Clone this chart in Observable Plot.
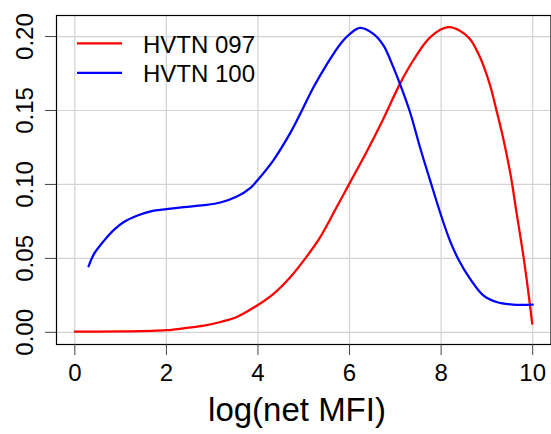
<!DOCTYPE html>
<html>
<head>
<meta charset="utf-8">
<script src="https://cdn.jsdelivr.net/npm/d3@7"></script>
<script src="https://cdn.jsdelivr.net/npm/@observablehq/plot@0.6"></script>
<style>
  html, body { margin: 0; padding: 0; background: #fff; }
  body { font-family: "Liberation Sans", Arial, Helvetica, sans-serif; }
  #wrap { position: relative; width: 551px; height: 434px; overflow: hidden; }
  #overlay { position: absolute; left: 0; top: 0; pointer-events: none; }
</style>
</head>
<body>
<div id="wrap"></div>
<script>
// ---- data ----
const seriesNames = ["HVTN 097", "HVTN 100"];
const seriesColors = ["#ff0000", "#0000ff"];
const xTicks = [0, 2, 4, 6, 8, 10];
const yTicks = [0, 0.05, 0.10, 0.15, 0.20];
const yTickLabels = ["0.00", "0.05", "0.10", "0.15", "0.20"];
const xLabel = "log(net MFI)";

const hvtn097X = [0, 1.0, 2.0, 2.45, 2.82, 3.18, 3.54, 4.0, 4.34, 4.71, 5.03, 5.36, 5.72, 6.0, 6.38, 6.74, 7.1, 7.39, 7.76, 8.15, 8.41, 8.63, 8.85, 9.06, 9.21, 9.35, 9.52, 9.64, 9.79, 9.9, 9.99];
const hvtn097Y = [0.0005, 0.0006, 0.0014, 0.003, 0.0045, 0.007, 0.0104, 0.0185, 0.026, 0.0374, 0.0498, 0.0644, 0.0847, 0.1007, 0.1225, 0.1445, 0.168, 0.1838, 0.1995, 0.2063, 0.204, 0.1984, 0.186, 0.168, 0.150, 0.132, 0.106, 0.0824, 0.053, 0.0284, 0.0059];

const hvtn100X = [0.30, 0.42, 0.64, 0.86, 1.07, 1.37, 1.66, 2.0, 2.38, 2.82, 3.18, 3.54, 3.83, 3.98, 4.34, 4.71, 4.96, 5.21, 5.51, 5.8, 6.01, 6.23, 6.52, 6.74, 6.96, 7.1, 7.32, 7.54, 7.76, 8.01, 8.19, 8.37, 8.63, 8.92, 9.21, 9.57, 10.0];
const hvtn100Y = [0.0446, 0.053, 0.062, 0.0694, 0.0746, 0.079, 0.0818, 0.0833, 0.0847, 0.086, 0.0878, 0.0918, 0.0975, 0.1025, 0.1165, 0.135, 0.150, 0.1655, 0.1815, 0.195, 0.2018, 0.2058, 0.2018, 0.194, 0.179, 0.168, 0.149, 0.125, 0.1027, 0.078, 0.0622, 0.0498, 0.0363, 0.025, 0.0205, 0.0187, 0.0187];

// ---- build tables ----
const rows097 = hvtn097X.map((x, i) => ({x, y: hvtn097Y[i], s: seriesNames[0]}));
const rows100 = hvtn100X.map((x, i) => ({x, y: hvtn100Y[i], s: seriesNames[1]}));

const FONT = '"Liberation Sans", Arial, Helvetica, sans-serif';

const chart = Plot.plot({
  width: 551,
  height: 434,
  marginLeft: 56,
  marginRight: 0.5,
  marginTop: 15,
  marginBottom: 90,
  style: { fontFamily: FONT, fontSize: "24px", background: "#fff", color: "#000" },
  x: { domain: [-0.4, 10.4], label: null },
  y: { domain: [-0.00824, 0.21424], label: null },
  marks: [
    Plot.gridX(xTicks, { stroke: "#d3d3d3", strokeOpacity: 1, strokeWidth: 1.2 }),
    Plot.gridY(yTicks, { stroke: "#d3d3d3", strokeOpacity: 1, strokeWidth: 1.2 }),
    Plot.line(rows097, { x: "x", y: "y", stroke: seriesColors[0], strokeWidth: 2.25, curve: "catmull-rom" }),
    Plot.line(rows100, { x: "x", y: "y", stroke: seriesColors[1], strokeWidth: 2.25, curve: "catmull-rom" }),
    Plot.frame({ stroke: "#000", strokeWidth: 1.2 }),
    Plot.axisX(xTicks, { label: null, tickSize: 11, tickPadding: 8, fontSize: 24, stroke: "#444", fill: "#000", tickFormat: d => String(d) }),
    Plot.axisY(yTicks, { label: null, tickSize: 11, tickPadding: 13, tickRotate: -90, fontSize: 24, stroke: "#444", fill: "#000",
      tickFormat: d => yTickLabels[yTicks.indexOf(d)] })
  ]
});

const wrap = document.getElementById("wrap");
wrap.appendChild(chart);

// ---- legend and axis title overlay ----
const ns = "http://www.w3.org/2000/svg";
const ov = document.createElementNS(ns, "svg");
ov.setAttribute("id", "overlay");
ov.setAttribute("width", 551);
ov.setAttribute("height", 434);
ov.style.fontFamily = FONT;
wrap.appendChild(ov);

const legendLineY = [43.3, 72.8];
seriesNames.forEach((name, i) => {
  const ln = document.createElementNS(ns, "line");
  ln.setAttribute("x1", 77); ln.setAttribute("x2", 122);
  ln.setAttribute("y1", legendLineY[i]); ln.setAttribute("y2", legendLineY[i]);
  ln.setAttribute("stroke", seriesColors[i]);
  ln.setAttribute("stroke-width", 2.25);
  ov.appendChild(ln);
  const t = document.createElementNS(ns, "text");
  t.setAttribute("x", 143);
  t.setAttribute("y", legendLineY[i] + 9.5);
  t.setAttribute("font-size", 24);
  t.setAttribute("fill", "#000");
  t.textContent = name;
  ov.appendChild(t);
});

const title = document.createElementNS(ns, "text");
title.setAttribute("x", 297);
title.setAttribute("y", 421);
title.setAttribute("text-anchor", "middle");
title.setAttribute("font-size", 33);
title.setAttribute("fill", "#000");
title.textContent = xLabel;
ov.appendChild(title);
</script>
</body>
</html>
